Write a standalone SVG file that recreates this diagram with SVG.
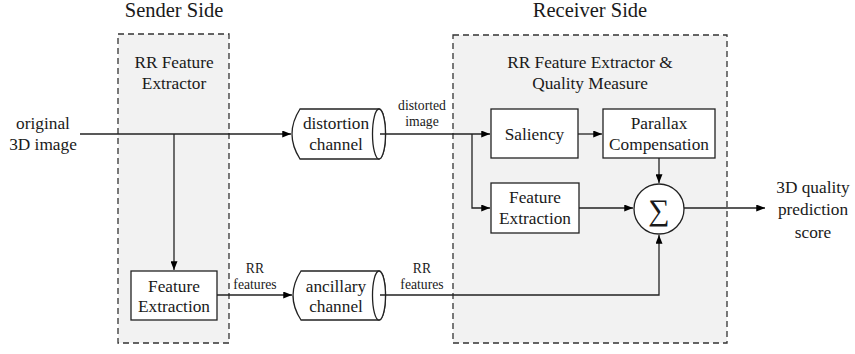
<svg xmlns="http://www.w3.org/2000/svg" width="855" height="354" viewBox="0 0 855 354">
<defs>
<marker id="ah" viewBox="0 0 10 8" refX="10" refY="4" markerWidth="9" markerHeight="7" markerUnits="userSpaceOnUse" orient="auto"><path d="M0,0 L10,4 L0,8 z" fill="#000"/></marker>
</defs>
<style>
text{font-family:'Liberation Serif','Times New Roman',serif;fill:#1a1a1a;text-anchor:middle}
.region{fill:#f2f2f2;stroke:#333;stroke-width:1.3;stroke-dasharray:6,4}
.box{fill:#fff;stroke:#222;stroke-width:1.3}
.cyl{fill:#fff;stroke:#222;stroke-width:1.3}
.arr{fill:none;stroke:#222;stroke-width:1.3;marker-end:url(#ah)}
.t20{font-size:20.5px}
.t17{font-size:17.3px}
.t13{font-size:13.7px}
</style>
<rect width="855" height="354" fill="#fff"/>
<g id="sender">
<rect class="region" x="118" y="34" width="111" height="309"/>
<text class="t20" x="174" y="17">Sender Side</text>
<text class="t17" x="174" y="68">RR Feature</text>
<text class="t17" x="174" y="89">Extractor</text>
</g>
<g id="receiver">
<rect class="region" x="453" y="35" width="274" height="308"/>
<text class="t20" x="590" y="17">Receiver Side</text>
<text class="t17" x="590" y="68">RR Feature Extractor &amp;</text>
<text class="t17" x="590" y="89">Quality Measure</text>
</g>
<g id="input">
<text class="t17" x="43" y="129">original</text>
<text class="t17" x="43" y="150">3D image</text>
</g>
<g id="output">
<text class="t17" x="813" y="193">3D quality</text>
<text class="t17" x="813" y="215">prediction</text>
<text class="t17" x="813" y="238">score</text>
</g>
<g id="distortion">
<path class="cyl" d="M300,109 L379,109 A6.5,25 0 0 1 379,159 L300,159 Q284,134 300,109 Z"/>
<ellipse class="cyl" cx="379" cy="134" rx="6.5" ry="25"/>
<text class="t17" x="336" y="129">distortion</text>
<text class="t17" x="336" y="150">channel</text>
</g>
<g id="ancillary">
<path class="cyl" d="M301,271 L379,271 A6.5,24.5 0 0 1 379,320 L301,320 Q285,295.5 301,271 Z"/>
<ellipse class="cyl" cx="379" cy="295.5" rx="6.5" ry="24.5"/>
<text class="t17" x="336" y="292">ancillary</text>
<text class="t17" x="336" y="312">channel</text>
</g>
<g id="fe_sender">
<rect class="box" x="131" y="271" width="86" height="49"/>
<text class="t17" x="174" y="292">Feature</text>
<text class="t17" x="174" y="312">Extraction</text>
</g>
<g id="saliency">
<rect class="box" x="491" y="109" width="87" height="49"/>
<text class="t17" x="534.5" y="140">Saliency</text>
</g>
<g id="parallax">
<rect class="box" x="603" y="109" width="112" height="49"/>
<text class="t17" x="659" y="129">Parallax</text>
<text class="t17" x="659" y="150">Compensation</text>
</g>
<g id="fe_receiver">
<rect class="box" x="491" y="183" width="88" height="50"/>
<text class="t17" x="535" y="203">Feature</text>
<text class="t17" x="535" y="224">Extraction</text>
</g>
<g id="sum">
<circle class="box" cx="659" cy="209" r="25"/>
<text x="659" y="220" style="font-size:30px">∑</text>
</g>
<g id="connectors">
<path class="arr" d="M80,134 L291,134"/>
<path class="arr" d="M174,134 L174,270"/>
<path class="arr" d="M380,134 L490,134"/>
<path class="arr" d="M472,134 L472,208 L490,208"/>
<path class="arr" d="M578,134 L602,134"/>
<path class="arr" d="M659,158 L659,183"/>
<path class="arr" d="M579,208 L633,208"/>
<path class="arr" d="M684,208 L765,208"/>
<path class="arr" d="M217,295 L292,295"/>
<path class="arr" d="M380,295 L659,295 L659,235"/>
<text class="t13" x="422" y="110">distorted</text>
<text class="t13" x="422" y="126">image</text>
<text class="t13" x="255" y="273">RR</text>
<text class="t13" x="255" y="289">features</text>
<text class="t13" x="422" y="273">RR</text>
<text class="t13" x="422" y="289">features</text>
</g>
</svg>
